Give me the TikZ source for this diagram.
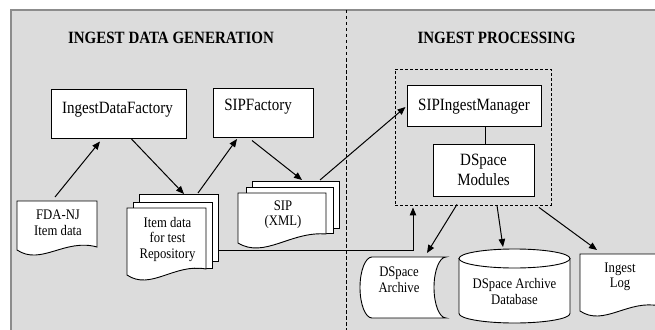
\documentclass[tikz,border=0pt]{standalone}
\usepackage{fontspec}
\usepackage{graphicx}
\setmainfont{Liberation Serif}
\usetikzlibrary{arrows.meta,calc}
\definecolor{bggray}{HTML}{DCDCDC}
\definecolor{bordergray}{HTML}{8C8C8C}
\newcommand\docsheet[5]{\path[sheet] (#1,#2) -- ({#1+#3},#2) -- ({#1+#3},{#2+#4-#5}) .. controls ({#1+0.6*#3},{#2+#4-12}) and ({#1+0.3*#3},{#2+#4+16}) .. (#1,{#2+#4}) -- cycle;}
\newcommand\docarea[5]{\node[area, minimum width=#4pt, minimum height=#5pt] (#1) at (#2,#3) {};}
\newcommand\vs[1]{\scalebox{1}[1.15]{#1}}
\newcommand\stk[1]{\scalebox{1}[1.15]{\vbox{\halign{\hfil##\hfil\cr#1\crcr}}}}
\begin{document}
\begin{tikzpicture}[x=1pt,y=-1pt,
  box/.style={draw=black, fill=white, line width=1pt, inner sep=0pt},
  sheet/.style={draw=black, fill=white, line width=0.9pt},
  conn/.style={draw=black, line width=1pt, -{Triangle[length=8pt,width=6.5pt]}},
  plainline/.style={draw=black, line width=1pt},
  divline/.style={draw=black, line width=0.9pt, dash pattern=on 3.5pt off 2.5pt},
  lbl/.style={font=\fontsize{15}{17.4}\selectfont, inner sep=0pt},
  dlbl/.style={font=\fontsize{12.7}{13.5}\selectfont, inner sep=0pt},
  ttl/.style={font=\fontsize{15}{18}\selectfont\bfseries, inner sep=0pt},
  area/.style={inner sep=0pt, outer sep=0pt, anchor=north west}]
\useasboundingbox (0,0) rectangle (655,329);
\clip (0,0) rectangle (655,329);
% background
\fill[bggray] (11,10) rectangle (665,335);
\draw[bordergray, line width=1.5pt] (11,335) -- (11,10) -- (665,10);
\draw[divline] (346,10) -- (346,335);
% titles
\node[ttl, anchor=base] (t1) at (171,44) {\vs{INGEST DATA GENERATION}};
\node[ttl, anchor=base] (t2) at (496.5,44) {\vs{INGEST PROCESSING}};
% left boxes
\node[box, minimum width=135pt, minimum height=49pt] (idf) at (118.5,113.5) {};
\node[lbl, anchor=base] (idft) at (117.5,113) {\vs{IngestDataFactory}};
\node[box, minimum width=100pt, minimum height=49pt] (sipf) at (263,112.5) {};
\node[lbl, anchor=base] (sipft) at (258,110) {\vs{SIPFactory}};
% processing group
\node[draw=black, line width=0.9pt, dash pattern=on 3pt off 2pt, inner sep=0pt, minimum width=156pt, minimum height=136pt] (proc) at (473,137) {};
\node[box, minimum width=134pt, minimum height=41pt] (sipim) at (474,105.5) {};
\node[lbl, anchor=base] (sipimt) at (474,110.5) {\vs{SIPIngestManager}};
\node[box, lbl, minimum width=101pt, minimum height=52pt] (dsm) at (483.5,170) {\stk{DSpace\cr Modules}};
\draw[plainline] (dsm.north -| 485,0) -- (sipim.south -| 485,0);
% FDA-NJ document
\docsheet{17}{201}{80}{49}{3}
\docarea{fda}{17}{201}{80}{49}
\node[dlbl] (fdat) at (58,223) {\stk{FDA-NJ\cr Item data}};
% Item data stack
\draw[sheet] (139,194) rectangle (218,261);
\draw[sheet] (133,202) rectangle (212,268);
\docsheet{127}{208}{79}{67}{6}
\docarea{item}{127}{208}{79}{67}
\node[dlbl] (itemt) at (167.5,239.2) {\stk{Item data\cr for test\cr Repository}};
% SIP stack
\draw[sheet] (252,181) rectangle (339,228);
\draw[sheet] (246,187) rectangle (333,233);
\docsheet{238}{193}{88}{50}{9}
\docarea{sip}{238}{193}{88}{50}
\node[dlbl] (sipt) at (283,214.7) {\stk{SIP\cr (XML)}};
% DSpace Archive (stored data)
\path[sheet] (372,257) -- (446,257) .. controls (439.4,257) and (434,270.7) .. (434,287.5) .. controls (434,304.3) and (439.4,318) .. (446,318) -- (372,318) .. controls (365.4,318) and (360,304.3) .. (360,287.5) .. controls (360,270.7) and (365.4,257) .. (372,257) -- cycle;
\docarea{arch}{360}{257}{86}{61}
\node[dlbl] (archt) at (399,279.5) {\stk{DSpace\cr Archive}};
% Database cylinder
\path[sheet] (459,258.5) -- (459,313.5) .. controls (459,318.7) and (483.9,323) .. (514.5,323) .. controls (545.1,323) and (570,318.7) .. (570,313.5) -- (570,258.5) -- cycle;
\draw[sheet] (514.5,258.5) ellipse [x radius=55.5, y radius=9.5];
\docarea{db}{459}{249}{111}{74}
\node[dlbl] (dbt) at (514.5,291.5) {\stk{DSpace Archive\cr Database}};
% Ingest Log document
\docsheet{580}{254}{80}{57}{5}
\docarea{log}{580}{254}{80}{57}
\node[dlbl] (logt) at (620,277) {\stk{Ingest\cr Log}};
% connectors
\draw[conn] ($(fda.north)+(-2,-4)$) -- ($(idf.south)+(-18.5,3)$);
\draw[conn] ($(idf.south)+(12.5,0)$) -- ($(item.north)+(17.5,-14)$);
\draw[conn] ($(item.north)+(31.5,-15)$) -- ($(sipf.south)+(-26,1.5)$);
\draw[conn] ($(sipf.south)+(-11,3)$) -- ($(sip.north)+(20,-13)$);
\draw[conn] ($(sip.north)+(38,-13)$) -- ($(sipim.west)+(-1,1.5)$);
\draw[conn] ($(item.east)+(12,8.5)$) -| ($(proc.south)+(-60,2)$);
\draw[conn] ($(proc.south)+(-16,-1)$) -- ($(arch.north)+(24,-4)$);
\draw[conn] ($(proc.south)+(24,0)$) -- ($(db.north)+(-11.5,-2)$);
\draw[conn] ($(proc.south)+(66,2)$) -- ($(log.north)+(-23,-4)$);
\end{tikzpicture}
\end{document}
